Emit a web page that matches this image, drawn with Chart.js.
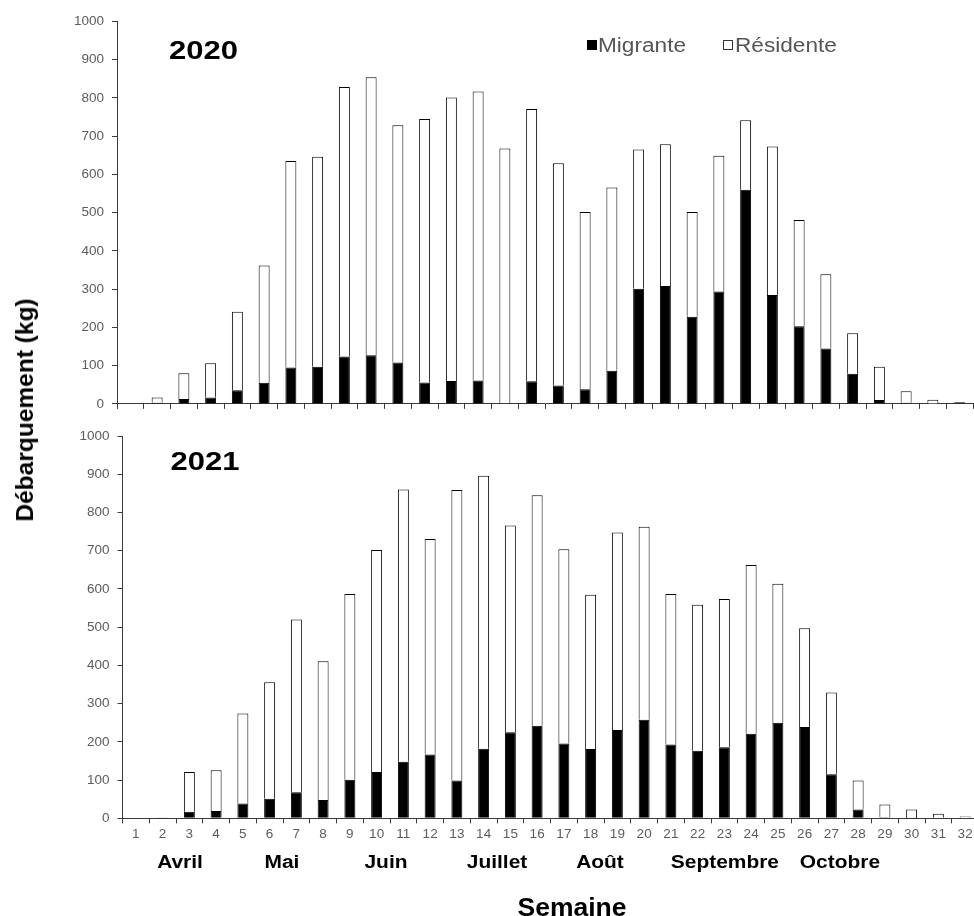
<!DOCTYPE html>
<html lang="fr">
<head>
<meta charset="utf-8">
<title>Débarquement hebdomadaire – 2020 et 2021</title>
<script src="https://cdn.jsdelivr.net/npm/chart.js@4.4.1/dist/chart.umd.min.js"></script>
<style>
  html, body { margin: 0; padding: 0; background: #fff; }
  #wrap { position: relative; width: 974px; height: 916px; overflow: hidden; background: #fff; }
  #c2020 { position: absolute; left: 0; top: 0; }
  #c2021 { position: absolute; left: 0; top: 420px; }
  #ytitle {
    position: absolute; left: 24.5px; top: 410px;
    transform: translate(-50%, -50%) rotate(-90deg);
    font: bold 24.5px 'Liberation Sans', Arial, sans-serif;
    color: #000; white-space: nowrap;
  }
</style>
</head>
<body>
<div id="wrap">
  <canvas id="c2020" width="974" height="420"></canvas>
  <canvas id="c2021" width="990" height="496"></canvas>
  <div id="ytitle">Débarquement (kg)</div>
</div>
<script>
// Semaines de débarquement (1 = première semaine d'avril)
const weeks = ['1','2','3','4','5','6','7','8','9','10','11','12','13','14','15','16',
               '17','18','19','20','21','22','23','24','25','26','27','28','29','30','31','32'];

// Débarquements 2020 (kg)
const migrante2020  = [0, 3, 13, 17, 36, 55, 95, 97, 124, 127, 108, 56, 60, 61, 2, 59,
                       48, 38, 87, 301, 308, 228, 294, 560, 285, 203, 145, 79, 10, 3, 1, 4];
const residente2020 = [0, 14, 67, 89, 205, 307, 540, 549, 705, 727, 621, 689, 741, 756, 666, 712,
                       581, 464, 479, 364, 371, 274, 355, 182, 388, 278, 194, 106, 87, 30, 10, 0];

// Débarquements 2021 (kg)
const migrante2021  = [0, 2, 17, 19, 39, 51, 68, 48, 101, 121, 148, 167, 99, 182, 225, 242,
                       196, 181, 231, 258, 193, 177, 186, 221, 250, 239, 115, 23, 3, 1, 0, 0];
const residente2021 = [0, 1, 104, 107, 235, 305, 452, 363, 486, 581, 712, 564, 760, 714, 541, 603,
                       508, 404, 517, 505, 394, 382, 388, 442, 364, 258, 214, 76, 33, 22, 12, 5];

// Mois et semaine (fractionnaire) sous laquelle chaque nom est centré
const months    = ['Avril', 'Mai', 'Juin', 'Juillet', 'Août', 'Septembre', 'Octobre'];
const monthWeek = [2.65, 6.46, 10.35, 14.5, 18.35, 23.02, 27.32];

const yMax = 1000;
const yStep = 100;

const FONT = "'Liberation Sans', Arial, sans-serif";
const AXIS = '#3a3a3a';
const TICKTXT = '#5c5c5c';

function drawText(ctx, text, x, y, font, color, sx, align) {
  ctx.save();
  ctx.font = font;
  ctx.fillStyle = color;
  ctx.textBaseline = 'alphabetic';
  ctx.textAlign = align;
  ctx.translate(x, y);
  ctx.scale(sx, 1);
  ctx.fillText(text, 0, 0);
  ctx.restore();
}

// Année, légende, mois et titre de l'axe des semaines
const panelText = {
  id: 'panelText',
  afterDraw(chart, args, o) {
    const ctx = chart.ctx;
    drawText(ctx, o.year, o.yearX, o.yearY, 'bold 26.5px ' + FONT, '#000', 1.17, 'center');
    if (o.legend) {
      ctx.save();
      ctx.fillStyle = '#000';
      ctx.fillRect(587, 40, 10, 10);
      ctx.strokeStyle = '#333';
      ctx.lineWidth = 1;
      ctx.fillStyle = '#fff';
      ctx.fillRect(723.5, 40.5, 9, 9);
      ctx.strokeRect(723.5, 40.5, 9, 9);
      ctx.restore();
      drawText(ctx, chart.data.datasets[0].label, 598, 52, '19.5px ' + FONT, '#555', 1.16, 'left');
      drawText(ctx, chart.data.datasets[1].label, 735, 52, '19.5px ' + FONT, '#555', 1.16, 'left');
    }
    if (o.months) {
      const xs = chart.scales.x;
      months.forEach((m, i) => {
        drawText(ctx, m, xs.getPixelForValue(monthWeek[i] - 1), o.monthY,
                 'bold 18.7px ' + FONT, '#000', 1.12, 'center');
      });
      drawText(ctx, 'Semaine', o.titleX, o.titleY, 'bold 25px ' + FONT, '#000', 1.06, 'center');
    }
  }
};

function makePanel(id, migr, resid, cfg) {
  const bar = {
    stack: 's',
    borderWidth: 1,
    barPercentage: 0.41,
    categoryPercentage: 1
  };
  return new Chart(document.getElementById(id), {
    type: 'bar',
    data: {
      labels: weeks,
      datasets: [
        Object.assign({ label: 'Migrante', data: migr, backgroundColor: '#000', borderColor: '#000' }, bar),
        Object.assign({ label: 'Résidente', data: resid, backgroundColor: '#fff', borderColor: '#000' }, bar)
      ]
    },
    options: {
      responsive: false,
      maintainAspectRatio: false,
      animation: false,
      devicePixelRatio: 1,
      layout: { padding: { top: cfg.padTop, right: cfg.padRight, bottom: 0, left: 0 } },
      plugins: {
        legend: { display: false },
        tooltip: { enabled: false },
        panelText: cfg.text
      },
      scales: {
        x: {
          stacked: true,
          grid: { display: true, drawOnChartArea: false, drawTicks: true, tickLength: 5, color: AXIS, offset: true },
          border: { display: true, color: AXIS, width: 1 },
          ticks: {
            display: cfg.xLabels,
            color: TICKTXT,
            font: { family: FONT, size: 13.5 },
            padding: 3,
            maxRotation: 0,
            autoSkip: false
          },
          afterFit(s) { s.height = cfg.xHeight; }
        },
        y: {
          stacked: true,
          min: 0,
          max: yMax,
          grid: { display: true, drawOnChartArea: false, drawTicks: true, tickLength: 5, color: AXIS },
          border: { display: true, color: AXIS, width: 1 },
          ticks: {
            stepSize: yStep,
            color: TICKTXT,
            font: { family: FONT, size: 13.5 },
            padding: 8,
            callback: (v) => String(v)
          },
          afterFit(s) { s.width = cfg.yWidth; }
        }
      }
    },
    plugins: [panelText]
  });
}

makePanel('c2020', migrante2020, residente2020, {
  padTop: 21.5, padRight: 1, xHeight: 13.3, yWidth: 117, xLabels: false,
  text: { year: '2020', yearX: 203.5, yearY: 59.3, legend: true, months: false }
});

makePanel('c2021', migrante2021, residente2021, {
  padTop: 14, padRight: 11.5, xHeight: 97.7, yWidth: 122.5, xLabels: true,
  text: { year: '2021', yearX: 205, yearY: 50, legend: false, months: true,
          monthY: 447.7, titleX: 572, titleY: 495.5 }
});
</script>
</body>
</html>
